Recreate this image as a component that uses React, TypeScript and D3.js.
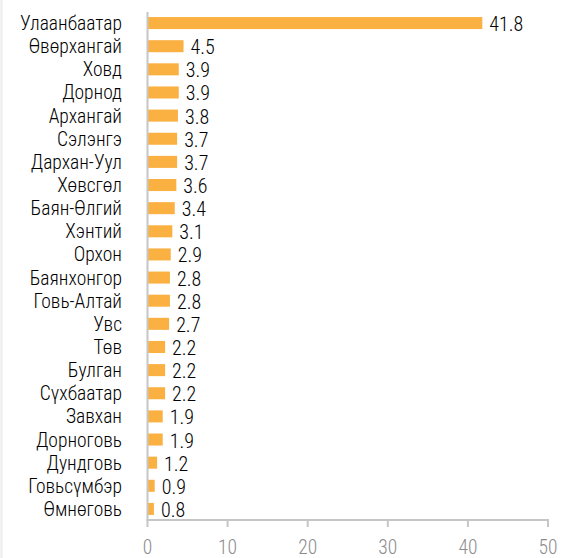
import React from "react";
import * as d3 from "d3";

const categories = [
  "Улаанбаатар", "Өвөрхангай", "Ховд", "Дорнод", "Архангай", "Сэлэнгэ",
  "Дархан-Уул", "Хөвсгөл", "Баян-Өлгий", "Хэнтий", "Орхон", "Баянхонгор",
  "Говь-Алтай", "Увс", "Төв", "Булган", "Сүхбаатар", "Завхан", "Дорноговь",
  "Дундговь", "Говьсүмбэр", "Өмнөговь",
];
const values = [
  41.8, 4.5, 3.9, 3.9, 3.8, 3.7, 3.7, 3.6, 3.4, 3.1, 2.9, 2.8, 2.8, 2.7,
  2.2, 2.2, 2.2, 1.9, 1.9, 1.2, 0.9, 0.8,
];
const xTicks = [0, 10, 20, 30, 40, 50];

const W = 561;
const H = 558;
const FONT = "'Roboto Condensed', 'Liberation Sans Narrow', 'Arial Narrow', Roboto, sans-serif";

export default function App() {
  const x = d3.scaleLinear().domain([0, 50]).range([147.5, 548]);
  const y = d3
    .scaleBand<string>()
    .domain(categories)
    .range([11.5, 520.5])
    .paddingInner(0.48)
    .paddingOuter(0.24);
  const axisY = 520;
  return (
    <svg
      width={W}
      height={H}
      style={{ position: "absolute", left: 0, top: 0, background: "#fff" }}
      fontFamily={FONT}
      fontWeight={300}
    >
      <line x1={1.5} x2={1.5} y1={0} y2={H} stroke="#ececec" strokeWidth={2} />
      {categories.map((c, i) => {
        const yy = y(c)!;
        const bw = y.bandwidth();
        return (
          <g key={c}>
            <rect x={x(0)} y={yy} width={x(values[i]) - x(0)} height={bw} fill="#FBB042" />
            <text
              x={122}
              y={yy + bw / 2}
              dy="0.36em"
              textAnchor="end"
              fontSize={19.5}
              fill="#000"
            >
              {c}
            </text>
            <text
              x={x(values[i]) + 7}
              y={yy + bw / 2}
              dy="0.4em"
              fontSize={20}
              fill="#000"
            >
              {values[i].toFixed(1)}
            </text>
          </g>
        );
      })}
      <line x1={x(0)} x2={x(0)} y1={12} y2={axisY + 1} stroke="#c6c6c6" strokeWidth={2} />
      <line x1={x(0) - 1} x2={x(50) + 1} y1={axisY} y2={axisY} stroke="#c6c6c6" strokeWidth={2} />
      {xTicks.map((t) => (
        <g key={t}>
          <line x1={x(t)} x2={x(t)} y1={axisY} y2={axisY + 7} stroke="#c6c6c6" strokeWidth={2} />
          <text x={x(t)} y={554} textAnchor="middle" fontSize={19.5} fill="#8c8c8c">
            {t}
          </text>
        </g>
      ))}
    </svg>
  );
}
